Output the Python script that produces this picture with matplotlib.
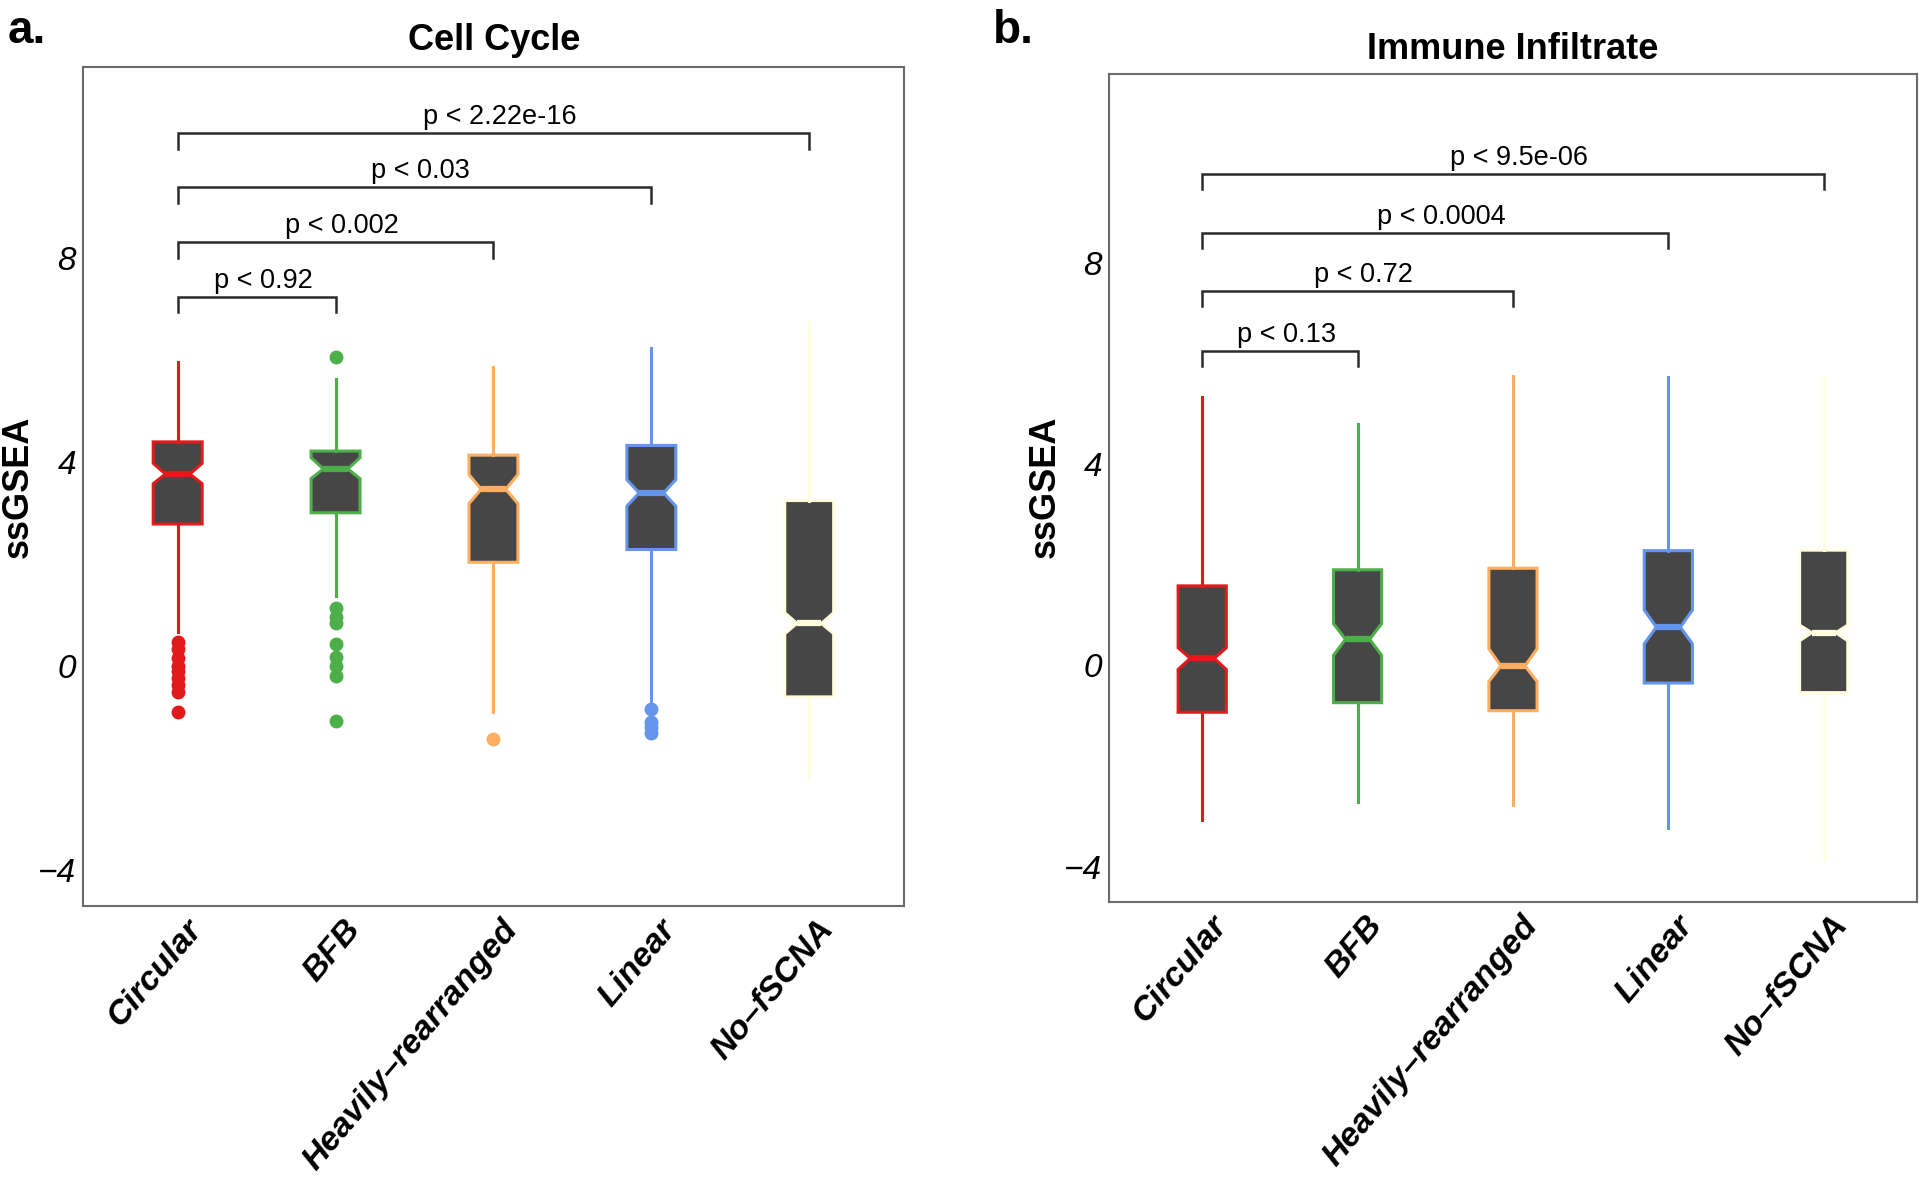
import matplotlib
matplotlib.use("Agg")
import matplotlib.pyplot as plt
from matplotlib.transforms import ScaledTranslation

plt.rcParams['font.family'] = ['Liberation Sans', 'DejaVu Sans']

# Groups and colours
categories = ["Circular", "BFB", "Heavily–rearranged", "Linear", "No–fSCNA"]
colors = ["#E31A1C", "#4DAF4A", "#FDAE61", "#6495ED", "#FFFFE0"]
fill_color = "#464646"
y_ticks = [-4, 0, 4, 8]

# Panel a: Cell Cycle (box stats)
cc_q1 = [2.79, 3.01, 2.04, 2.29, -0.60]
cc_med = [3.77, 3.87, 3.47, 3.40, 0.84]
cc_q3 = [4.40, 4.22, 4.14, 4.33, 3.25]
cc_lo = [0.68, 1.37, -0.89, -0.74, -2.21]
cc_hi = [5.96, 5.63, 5.86, 6.25, 6.76]
cc_cilo = [3.58, 3.68, 3.19, 3.14, 0.64]
cc_cihi = [3.98, 4.09, 3.76, 3.66, 1.05]
cc_out = [
    [0.47, 0.33, 0.17, 0.0, -0.10, -0.22, -0.36, -0.51, -0.90],
    [6.06, 1.15, 0.97, 0.84, 0.43, 0.19, 0.0, -0.20, -1.08],
    [-1.42],
    [-0.83, -1.09, -1.20, -1.30],
    [],
]
cc_pairs = [(1, 2), (1, 3), (1, 4), (1, 5)]
cc_bracket_y = [7.24, 8.31, 9.39, 10.45]
cc_pvals = ["p < 0.92", "p < 0.002", "p < 0.03", "p < 2.22e-16"]

# Panel b: Immune Infiltrate
ii_q1 = [-0.93, -0.74, -0.90, -0.35, -0.54]
ii_med = [0.14, 0.52, -0.01, 0.76, 0.65]
ii_q3 = [1.58, 1.90, 1.93, 2.28, 2.29]
ii_lo = [-3.07, -2.72, -2.77, -3.23, -3.85]
ii_hi = [5.33, 4.80, 5.75, 5.73, 5.72]
ii_cilo = [-0.08, 0.20, -0.32, 0.43, 0.49]
ii_cihi = [0.35, 0.83, 0.33, 1.10, 0.80]
ii_out = [[], [], [], [], []]
ii_pairs = [(1, 2), (1, 3), (1, 4), (1, 5)]
ii_bracket_y = [6.25, 7.44, 8.60, 9.77]
ii_pvals = ["p < 0.13", "p < 0.72", "p < 0.0004", "p < 9.5e-06"]


def draw_panel(ax, q1, med, q3, lo, hi, cilo, cihi, outliers, pairs, bracket_y, pvals):
    stats = []
    for i in range(len(categories)):
        stats.append(dict(med=med[i], q1=q1[i], q3=q3[i], whislo=lo[i], whishi=hi[i],
                          fliers=outliers[i], cilo=cilo[i], cihi=cihi[i]))
    pos = list(range(1, len(categories) + 1))
    res = ax.bxp(stats, positions=pos, widths=0.31, shownotches=True, showcaps=False,
                 patch_artist=True)
    for i, c in enumerate(colors):
        res['boxes'][i].set_facecolor(fill_color)
        res['boxes'][i].set_edgecolor(c)
        res['boxes'][i].set_linewidth(2.2)
        res['medians'][i].set_color(c)
        res['medians'][i].set_linewidth(4.5)
        res['medians'][i].set_solid_capstyle('butt')
        for w in res['whiskers'][2 * i:2 * i + 2]:
            w.set_color(c)
            w.set_linewidth(2.2)
        f = res['fliers'][i]
        f.set_marker('o')
        f.set_markerfacecolor(c)
        f.set_markeredgecolor(c)
        f.set_markersize(9)

    # significance brackets
    h = 0.3
    for (a, b), y, txt in zip(pairs, bracket_y, pvals):
        ax.plot([a, a, b, b], [y - h, y, y, y - h], color="#2b2b2b", lw=1.8,
                solid_joinstyle='miter')
        ax.text((a + b) / 2 + 0.04, y + 0.06, txt, ha='center', va='bottom', fontsize=19.5)

    ax.set_xlim(0.4, 5.6)
    ax.set_ylim(-4.7, 11.75)
    ax.set_yticks(y_ticks)
    ax.set_xticks(pos)
    ax.set_xticklabels(categories, rotation=50, ha='right', va='top',
                       rotation_mode='anchor', fontsize=24.5, fontweight='bold',
                       fontstyle='italic')
    ax.tick_params(axis='both', length=0)
    ax.tick_params(axis='y', labelsize=24, pad=5)
    ax.tick_params(axis='x', pad=6)
    for lbl in ax.get_yticklabels():
        lbl.set_fontstyle('italic')
    off = ScaledTranslation(0.07, 0, ax.figure.dpi_scale_trans)
    for lbl in ax.get_xticklabels():
        lbl.set_transform(lbl.get_transform() + off)
    for s in ax.spines.values():
        s.set_color("#6a6a6a")
        s.set_linewidth(1.5)


fig = plt.figure(figsize=(19.2, 11.78), dpi=100)
ax1 = fig.add_axes([0.0432, 0.2309, 0.4276, 0.7122])
ax2 = fig.add_axes([0.5776, 0.2343, 0.4208, 0.7029])

draw_panel(ax1, cc_q1, cc_med, cc_q3, cc_lo, cc_hi, cc_cilo, cc_cihi, cc_out,
           cc_pairs, cc_bracket_y, cc_pvals)
draw_panel(ax2, ii_q1, ii_med, ii_q3, ii_lo, ii_hi, ii_cilo, ii_cihi, ii_out,
           ii_pairs, ii_bracket_y, ii_pvals)

fig.text(0.2573, 0.966, "Cell Cycle", ha='center', va='center', fontsize=26, fontweight='bold')
fig.text(0.788, 0.958, "Immune Infiltrate", ha='center', va='center', fontsize=26, fontweight='bold')
fig.text(0.004, 0.9635, "a.", ha='left', va='baseline', fontsize=33, fontweight='bold')
fig.text(0.517, 0.9635, "b.", ha='left', va='baseline', fontsize=33, fontweight='bold')
fig.text(0.0094, 0.5866, "ssGSEA", rotation=90, ha='center', va='center', fontsize=26, fontweight='bold')
fig.text(0.5443, 0.5866, "ssGSEA", rotation=90, ha='center', va='center', fontsize=26, fontweight='bold')

fig.savefig("out.png", dpi=100, facecolor='white')
